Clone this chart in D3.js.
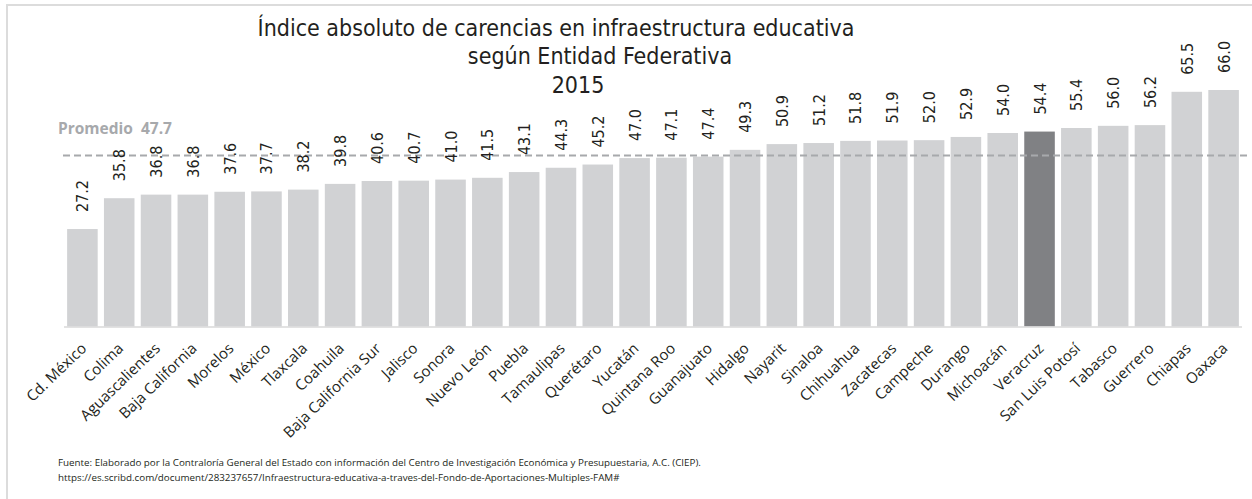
<!DOCTYPE html>
<html>
<head>
<meta charset="utf-8">
<script src="https://cdn.jsdelivr.net/npm/d3@7"></script>
<style>
    body { margin: 0; background: #fff; }
    #chart-area { width: 1252px; height: 499px; }
    .title { font-family: "DejaVu Sans Condensed", "DejaVu Sans", sans-serif; font-stretch: condensed; fill: #231f20; }
    .bar-label { font-family: "DejaVu Sans Condensed", "DejaVu Sans", sans-serif; font-stretch: condensed; fill: #231f20; }
    .cat-label { font-family: "Open Sans", sans-serif; fill: #231f20; }
    .source { font-family: "Open Sans", sans-serif; fill: #231f20; }
</style>
</head>
<body>
<div id="chart-area"></div>
<script>

// data
let states = ["Cd. México", "Colima", "Aguascalientes", "Baja California", "Morelos", "México", "Tlaxcala",
    "Coahuila", "Baja California Sur", "Jalisco", "Sonora", "Nuevo León", "Puebla", "Tamaulipas", "Querétaro",
    "Yucatán", "Quintana Roo", "Guanajuato", "Hidalgo", "Nayarit", "Sinaloa", "Chihuahua", "Zacatecas",
    "Campeche", "Durango", "Michoacán", "Veracruz", "San Luis Potosí", "Tabasco", "Guerrero", "Chiapas", "Oaxaca"];

let values = [27.2, 35.8, 36.8, 36.8, 37.6, 37.7, 38.2, 39.8, 40.6, 40.7, 41.0, 41.5, 43.1, 44.3, 45.2,
    47.0, 47.1, 47.4, 49.3, 50.9, 51.2, 51.8, 51.9, 52.0, 52.9, 54.0, 54.4, 55.4, 56.0, 56.2, 65.5, 66.0];

let highlighted = ["Veracruz"];
let promedio = 47.7;

let titleLines = ["Índice absoluto de carencias en infraestructura educativa", "según Entidad Federativa", "2015"];
let sourceLines = [
    "Fuente: Elaborado por la Contraloría General del Estado con información del Centro de Investigación Económica y Presupuestaria, A.C. (CIEP).",
    "https://es.scribd.com/document/283237657/Infraestructura-educativa-a-traves-del-Fondo-de-Aportaciones-Multiples-FAM#"
];

let data = states.map((s, i) => ({state: s, value: values[i]}));


/* * * * * * * * * * * * * *
*      class BarChart      *
* * * * * * * * * * * * * */

class BarChart {

    constructor(parentElement, data) {
        this.parentElement = parentElement;
        this.data = data;
        this.initVis();
    }

    initVis() {
        let vis = this;

        vis.width = 1252;
        vis.height = 499;

        vis.svg = d3.select("#" + vis.parentElement).append("svg")
            .attr("width", vis.width)
            .attr("height", vis.height);

        // frame
        vis.svg.append("rect")
            .attr("x", 7).attr("y", 5)
            .attr("width", 1250).attr("height", 500)
            .attr("fill", "none")
            .attr("stroke", "#dcdcdc")
            .attr("stroke-width", 2);

        // scales
        vis.x = d3.scaleBand()
            .domain(vis.data.map(d => d.state))
            .range([64, 1242])
            .paddingInner(0.17)
            .paddingOuter(0.085);

        vis.y = d3.scaleLinear()
            .domain([0, 66])
            .range([326.5, 90]);

        vis.updateVis();
    }

    updateVis() {
        let vis = this;

        // title (each line placed on its own, like the original)
        let titleX = [556, 600, 578];
        let titleY = [36, 64, 93];
        vis.svg.selectAll(".title")
            .data(titleLines)
            .enter().append("text")
            .attr("class", "title")
            .attr("x", (d, i) => titleX[i])
            .attr("y", (d, i) => titleY[i])
            .attr("text-anchor", "middle")
            .attr("font-size", 23)
            .text(d => d);

        // bars
        vis.svg.selectAll(".bar")
            .data(vis.data)
            .enter().append("rect")
            .attr("class", "bar")
            .attr("x", d => vis.x(d.state))
            .attr("y", d => vis.y(d.value))
            .attr("width", vis.x.bandwidth())
            .attr("height", d => vis.y(0) - vis.y(d.value))
            .attr("fill", d => highlighted.includes(d.state) ? "#808184" : "#d1d2d4");

        // baseline
        vis.svg.append("line")
            .attr("x1", vis.x.range()[0]).attr("x2", vis.x.range()[1])
            .attr("y1", vis.y(0) + 0.5).attr("y2", vis.y(0) + 0.5)
            .attr("stroke", "#d9d9d9")
            .attr("stroke-width", 1.5);

        // average line
        vis.svg.append("line")
            .attr("x1", 63).attr("x2", 1248)
            .attr("y1", vis.y(promedio)).attr("y2", vis.y(promedio))
            .attr("stroke", "#a7a9ac")
            .attr("stroke-width", 2)
            .attr("stroke-dasharray", "7,4");

        vis.svg.append("text")
            .attr("x", 58)
            .attr("y", vis.y(promedio) - 22)
            .attr("font-family", "'Open Sans', sans-serif")
            .attr("font-weight", "bold")
            .attr("font-size", 15.5)
            .attr("fill", "#a7a9ac")
            .attr("xml:space", "preserve")
            .text("Promedio  " + d3.format(".1f")(promedio));

        // value labels, rotated
        vis.svg.selectAll(".bar-label")
            .data(vis.data)
            .enter().append("text")
            .attr("class", "bar-label")
            .attr("transform", d => `translate(${vis.x(d.state) + vis.x.bandwidth() / 2 + 6}, ${vis.y(d.value) - 17}) rotate(-90)`)
            .attr("font-size", 16)
            .text(d => d3.format(".1f")(d.value));

        // category labels
        vis.svg.selectAll(".cat-label")
            .data(vis.data)
            .enter().append("text")
            .attr("class", "cat-label")
            .attr("transform", d => `translate(${vis.x(d.state) + vis.x.bandwidth() / 2 + 5}, ${vis.y(0) + 23}) rotate(-44)`)
            .attr("text-anchor", "end")
            .attr("font-size", 15)
            .text(d => d.state);

        // source
        vis.svg.selectAll(".source")
            .data(sourceLines)
            .enter().append("text")
            .attr("class", "source")
            .attr("x", 58)
            .attr("y", (d, i) => 466 + i * 14.5)
            .attr("font-size", 9.8)
            .text(d => d);
    }
}

let chart = new BarChart("chart-area", data);

</script>
</body>
</html>
